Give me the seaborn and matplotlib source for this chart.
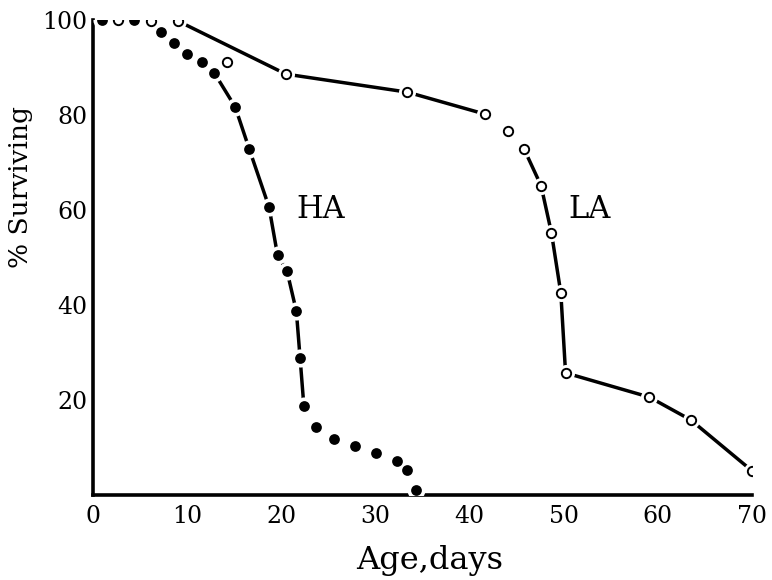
import matplotlib
matplotlib.use("Agg")
import matplotlib.pyplot as plt
import seaborn as sns
import pandas as pd

# ---- data ----
ha_days = [1.0, 4.4, 7.2, 8.6, 10.0, 11.6, 12.9, 15.1, 16.6, 18.7, 19.6, 20.6,
           21.6, 22.0, 22.4, 23.7, 25.6, 27.8, 30.1, 32.3, 33.4, 34.3]
ha_surv = [100, 100, 97.5, 95.2, 92.8, 91.2, 88.8, 81.7, 72.8, 60.6, 50.5, 47.2,
           38.7, 28.8, 18.7, 14.3, 11.8, 10.3, 8.8, 7.2, 5.3, 1.1]
ha_line_idx = list(range(6, 15))          # points joined by the HA line

la_days = [2.7, 6.2, 9.0, 14.2, 20.5, 33.4, 41.6, 44.1, 45.8, 47.6, 48.7, 49.7,
           50.2, 59.1, 63.5, 70.0]
la_surv = [100, 99.8, 99.8, 91.2, 88.6, 84.8, 80.2, 76.6, 72.8, 65.1, 55.2, 42.5,
           25.7, 20.6, 15.8, 5.1]
la_line_groups = [[2, 4, 5, 6], list(range(8, 16))]

x_ticks = [0, 10, 20, 30, 40, 50, 60, 70]
y_ticks = [20, 40, 60, 80, 100]

sns.set_theme(style="white")
plt.rcParams['font.family'] = ['DejaVu Serif']
plt.rcParams['text.color'] = 'black'
plt.rcParams['axes.labelcolor'] = 'black'
plt.rcParams['xtick.color'] = 'black'
plt.rcParams['ytick.color'] = 'black'

ha = pd.DataFrame({'day': ha_days, 'surv': ha_surv})
la = pd.DataFrame({'day': la_days, 'surv': la_surv})

fig = plt.figure(figsize=(7.72, 5.8), dpi=100)
ax = fig.add_axes([0.1205, 0.1466, 0.8535, 0.819])

# connecting lines
seg = ha.iloc[ha_line_idx]
sns.lineplot(data=seg, x='day', y='surv', color='black', lw=2.5, sort=False,
             ax=ax, zorder=2)
for g in la_line_groups:
    sns.lineplot(data=la.iloc[g], x='day', y='surv', color='black', lw=2.5,
                 sort=False, ax=ax, zorder=2)

# white halos give the small gaps around each marker
sns.scatterplot(data=ha, x='day', y='surv', s=170, color='white', linewidth=0,
                ax=ax, zorder=3)
sns.scatterplot(data=la, x='day', y='surv', s=150, color='white', linewidth=0,
                ax=ax, zorder=3)

# markers
sns.scatterplot(data=ha, x='day', y='surv', s=60, color='black', linewidth=0,
                ax=ax, zorder=4)
sns.scatterplot(data=la, x='day', y='surv', s=45, facecolor='white',
                edgecolor='black', linewidth=1.4, ax=ax, zorder=4)

ax.text(24.2, 60, 'HA', fontsize=22, ha='center', va='center')
ax.text(52.8, 60, 'LA', fontsize=22, ha='center', va='center')

ax.set_xlim(0, 70)
ax.set_ylim(0, 100)
ax.set_xticks(x_ticks)
ax.set_yticks(y_ticks)
ax.tick_params(direction='in', length=8, width=2, labelsize=17, color='black')
ax.tick_params(axis='x', pad=7)
ax.tick_params(axis='y', pad=4)
for side in ['top', 'right']:
    ax.spines[side].set_visible(False)
for side in ['left', 'bottom']:
    ax.spines[side].set_linewidth(2.6)
    ax.spines[side].set_color('black')
    ax.spines[side].set_clip_on(False)

ax.set_xlabel('Age,days', fontsize=23)
ax.set_ylabel('% Surviving', fontsize=19)
ax.xaxis.set_label_coords(0.511, -0.105)
ax.yaxis.set_label_coords(-0.091, 0.648)

fig.savefig('out.png', dpi=100)
